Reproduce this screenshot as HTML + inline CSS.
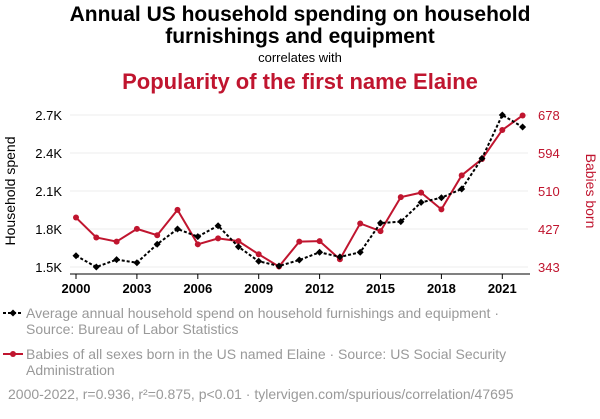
<!DOCTYPE html>
<html><head><meta charset="utf-8"><style>
body{margin:0;background:#fff;width:600px;height:414px;overflow:hidden;font-family:"Liberation Sans",sans-serif}
</style></head><body>
<svg width="600" height="414" xmlns="http://www.w3.org/2000/svg" font-family="Liberation Sans, sans-serif">
<text x="300" y="21" text-anchor="middle" font-size="21" font-weight="bold" fill="#000">Annual US household spending on household</text>
<text x="300" y="43" text-anchor="middle" font-size="21" font-weight="bold" fill="#000">furnishings and equipment</text>
<text x="300" y="62" text-anchor="middle" font-size="13" fill="#000">correlates with</text>
<text x="300" y="89" text-anchor="middle" font-size="22" font-weight="bold" fill="#c0152f">Popularity of the first name Elaine</text>
<g id="grid"></g><g id="axes"></g><g id="series"></g>
<text transform="translate(15,191) rotate(-90)" text-anchor="middle" font-size="14" fill="#000">Household spend</text>
<text transform="translate(586,191) rotate(90)" text-anchor="middle" font-size="14" fill="#c0152f">Babies born</text>
<g>
<line x1="3" y1="313" x2="23" y2="313" stroke="#000" stroke-width="2" stroke-dasharray="3,2"/>
<path d="M13 309.5 L16.5 313 L13 316.5 L9.5 313Z" fill="#000"/>
<text x="26" y="318" font-size="14" fill="#999">Average annual household spend on household furnishings and equipment ·</text>
<text x="26" y="334" font-size="14" fill="#999">Source: Bureau of Labor Statistics</text></g>
<g>
<line x1="3" y1="354" x2="23" y2="354" stroke="#c0152f" stroke-width="2"/>
<circle cx="13" cy="354" r="3" fill="#c0152f"/>
<text x="26" y="359" font-size="14" fill="#999">Babies of all sexes born in the US named Elaine · Source: US Social Security</text>
<text x="26" y="375" font-size="14" fill="#999">Administration</text></g>
<text x="8" y="399" font-size="14" fill="#999">2000-2022, r=0.936, r²=0.875, p&lt;0.01 · tylervigen.com/spurious/correlation/47695</text>
</svg>
<script>
const years=[2000,2001,2002,2003,2004,2005,2006,2007,2008,2009,2010,2011,2012,2013,2014,2015,2016,2017,2018,2019,2020,2021,2022];
const spend=[1.589,1.50,1.558,1.534,1.68,1.80,1.74,1.826,1.66,1.545,1.508,1.555,1.616,1.58,1.616,1.847,1.858,2.01,2.047,2.116,2.358,2.70,2.605];
const babies=[452,408,399,427,413,469,393,406,400,371,344,399,400,360,439,422,497,507,470,545,581,645,677];
const leftTicks=[1.5,1.8,2.1,2.4,2.7];
const leftLabels=["1.5K","1.8K","2.1K","2.4K","2.7K"];
const rightTicks=[343,427,510,594,678];
const xTicks=[2000,2003,2006,2009,2012,2015,2018,2021];
const NS="http://www.w3.org/2000/svg";
const X=y=>76+(y-2000)*20.3;
const YL=v=>267-(v-1.5)/1.2*152;
const YR=v=>267-(v-343)/335*152;
function mk(t,a,p){const e=document.createElementNS(NS,t);for(const k in a)e.setAttribute(k,a[k]);p.appendChild(e);return e;}
const grid=document.getElementById('grid'),axes=document.getElementById('axes'),ser=document.getElementById('series');
leftTicks.forEach((v,i)=>{
 const g=mk('line',{x1:70,x2:528,y1:YL(v),y2:YL(v),stroke:'#eee','stroke-width':1},grid);
 
 
 const t=mk('text',{x:62,y:YL(v)+5,'text-anchor':'end','font-size':13,fill:'#000'},axes);t.textContent=leftLabels[i];
 
 
});
rightTicks.forEach(v=>{
 const t=mk('text',{x:538,y:YR(v)+5,'font-size':13,fill:'#c0152f'},axes);t.textContent=v;
 
 
});
const ax=mk('line',{x1:70,x2:530,y1:274,y2:274,stroke:'#000','stroke-width':1},axes);


xTicks.forEach(y=>{
 mk('line',{x1:X(y),x2:X(y),y1:274,y2:279,stroke:'#000'},axes);
 const t=mk('text',{x:X(y),y:293,'text-anchor':'middle','font-size':13,'font-weight':'bold',fill:'#000'},axes);t.textContent=y;
 
 
});
const rl=mk('polyline',{points:years.map((y,i)=>X(y)+','+YR(babies[i])).join(' '),fill:'none',stroke:'#c0152f','stroke-width':2},ser);


years.forEach((y,i)=>{const c=mk('circle',{cx:X(y),cy:YR(babies[i]),r:3,fill:'#c0152f'},ser);
 
 });
const bl=mk('polyline',{points:years.map((y,i)=>X(y)+','+YL(spend[i])).join(' '),fill:'none',stroke:'#000','stroke-width':2,'stroke-dasharray':'3,2'},ser);


years.forEach((y,i)=>{const x=X(y),yy=YL(spend[i]);const p=mk('path',{d:`M${x} ${yy-3.5}L${x+3.5} ${yy}L${x} ${yy+3.5}L${x-3.5} ${yy}Z`,fill:'#000'},ser);
 
 });
</script>
</body></html>
